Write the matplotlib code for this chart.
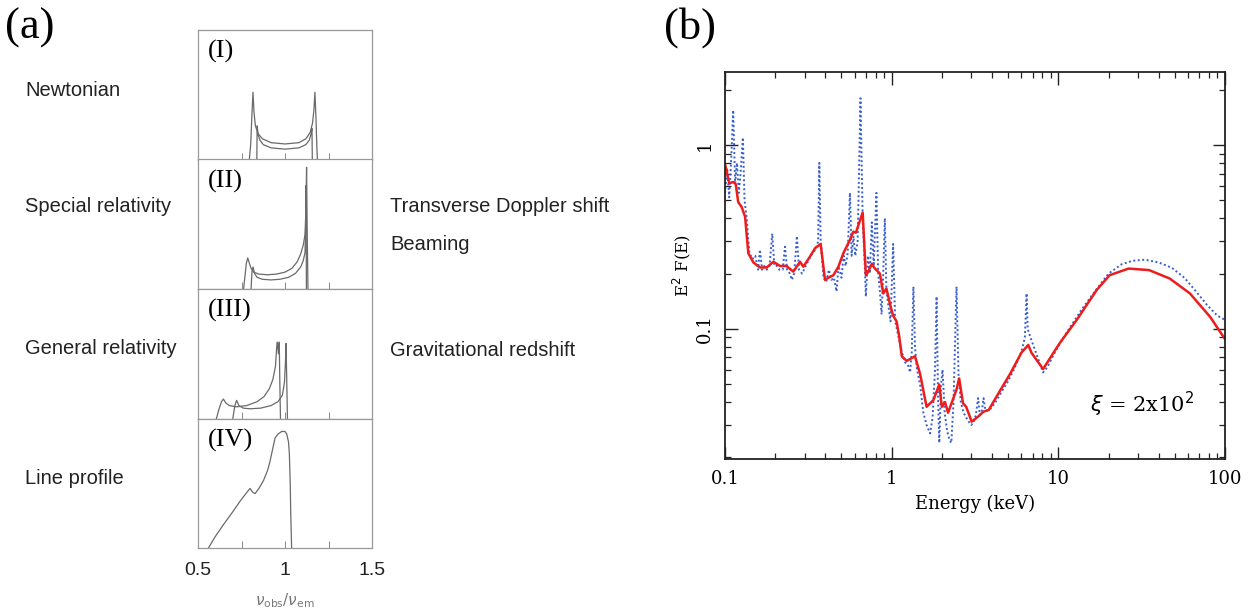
import numpy as np
import matplotlib
matplotlib.use('Agg')
import matplotlib.pyplot as plt
from matplotlib.ticker import FixedLocator, LogLocator, NullFormatter, FixedFormatter

# ---------------------------------------------------------------
# (a) line-profile panels: x = nu_obs / nu_em, y = normalised flux
# ---------------------------------------------------------------
newt_outer_x = [0.795, 0.803, 0.810, 0.816, 0.822, 0.830, 0.845, 0.87, 0.92, 1.00,
                1.08, 1.12, 1.145, 1.158, 1.166, 1.172, 1.178, 1.183, 1.186]
newt_outer_y = [0.0, 0.12, 0.35, 0.52, 0.36, 0.26, 0.20, 0.16, 0.13, 0.12,
                0.13, 0.16, 0.21, 0.28, 0.38, 0.52, 0.32, 0.10, 0.0]
newt_inner_x = [0.838, 0.840, 0.846, 0.856, 0.875, 0.92, 1.00, 1.08, 1.12, 1.14,
                1.150, 1.155, 1.157]
newt_inner_y = [0.0, 0.26, 0.19, 0.15, 0.115, 0.09, 0.08, 0.09, 0.115, 0.15,
                0.20, 0.24, 0.0]

sr_outer_x = [0.762, 0.770, 0.778, 0.786, 0.795, 0.805, 0.82, 0.85, 0.90, 0.95,
              1.00, 1.04, 1.07, 1.09, 1.105, 1.115, 1.120, 1.124, 1.128, 1.132]
sr_outer_y = [0.0, 0.10, 0.20, 0.24, 0.20, 0.16, 0.13, 0.115, 0.11, 0.115,
              0.13, 0.16, 0.21, 0.27, 0.34, 0.42, 0.60, 0.94, 0.40, 0.0]
sr_inner_x = [0.805, 0.810, 0.816, 0.825, 0.84, 0.87, 0.92, 0.97, 1.02, 1.06,
              1.09, 1.105, 1.115, 1.119, 1.121, 1.123]
sr_inner_y = [0.0, 0.13, 0.17, 0.12, 0.09, 0.075, 0.07, 0.075, 0.09, 0.12,
              0.17, 0.22, 0.28, 0.50, 0.80, 0.0]

gr_outer_x = [0.606, 0.620, 0.635, 0.646, 0.66, 0.68, 0.72, 0.78, 0.84, 0.88,
              0.91, 0.93, 0.945, 0.952, 0.956, 0.962, 0.967, 0.970, 0.974]
gr_outer_y = [0.0, 0.07, 0.13, 0.15, 0.12, 0.10, 0.09, 0.10, 0.13, 0.17,
              0.23, 0.30, 0.40, 0.55, 0.59, 0.50, 0.59, 0.30, 0.0]
gr_inner_x = [0.700, 0.712, 0.722, 0.735, 0.76, 0.80, 0.86, 0.92, 0.96, 0.985,
              0.997, 1.003, 1.006, 1.010, 1.014]
gr_inner_y = [0.0, 0.10, 0.14, 0.10, 0.08, 0.075, 0.08, 0.10, 0.13, 0.18,
              0.28, 0.45, 0.58, 0.30, 0.0]

prof_x = [0.560, 0.60, 0.646, 0.70, 0.741, 0.775, 0.799, 0.815, 0.828, 0.85,
          0.876, 0.90, 0.914, 0.93, 0.943, 0.96, 0.981, 1.00, 1.01, 1.02,
          1.025, 1.030, 1.033, 1.038]
prof_y = [0.0, 0.09, 0.18, 0.28, 0.36, 0.42, 0.46, 0.43, 0.42, 0.46,
          0.52, 0.60, 0.67, 0.77, 0.85, 0.88, 0.90, 0.90, 0.88, 0.82,
          0.73, 0.50, 0.27, 0.0]

panel_tags = ['(I)', '(II)', '(III)', '(IV)']
left_names = ['Newtonian', 'Special relativity', 'General relativity', 'Line profile']
ratio_ticks = [0.5, 1, 1.5]
ratio_ticklabels = ['0.5', '1', '1.5']

# ---------------------------------------------------------------
# (b) reflection spectrum, E^2 F(E) vs Energy (keV)
# ---------------------------------------------------------------
smooth_E = [0.100, 0.106, 0.112, 0.116, 0.120, 0.126, 0.132, 0.138, 0.148, 0.162,
            0.178, 0.195, 0.214, 0.234, 0.257, 0.282, 0.295, 0.323, 0.347, 0.375,
            0.398, 0.417, 0.447, 0.479, 0.513, 0.562, 0.588, 0.610, 0.670, 0.700,
            0.724, 0.760, 0.790, 0.850, 0.890, 0.930, 0.980, 1.02, 1.07, 1.11,
            1.15, 1.23, 1.38, 1.48, 1.62, 1.78, 1.93, 2.00, 2.09, 2.18,
            2.45, 2.54, 2.68, 2.80, 3.02, 3.31, 3.56, 3.82, 4.25, 5.14,
            6.0, 6.6, 6.9, 8.1, 10.2, 12.9, 17.0, 20.3, 26.4, 35.0,
            46.6, 61.6, 81.6, 100.0]
smooth_F = [0.79, 0.62, 0.63, 0.614, 0.49, 0.46, 0.407, 0.258, 0.23, 0.216,
            0.216, 0.232, 0.22, 0.22, 0.205, 0.232, 0.218, 0.247, 0.275, 0.29,
            0.185, 0.19, 0.196, 0.218, 0.258, 0.305, 0.338, 0.334, 0.43, 0.196,
            0.205, 0.226, 0.214, 0.20, 0.156, 0.166, 0.135, 0.118, 0.110, 0.091,
            0.071, 0.067, 0.071, 0.057, 0.0377, 0.041, 0.0498, 0.0377, 0.040, 0.035,
            0.0468, 0.0538, 0.0394, 0.0377, 0.0313, 0.0334, 0.0355, 0.0362, 0.0427, 0.057,
            0.0742, 0.0818, 0.0742, 0.0605, 0.0838, 0.112, 0.163, 0.196, 0.213, 0.209,
            0.188, 0.156, 0.116, 0.088]

lines_E = [0.100, 0.103, 0.106, 0.109, 0.112, 0.115, 0.118, 0.121, 0.124, 0.128,
           0.131, 0.135, 0.140, 0.146, 0.152, 0.158, 0.162, 0.167, 0.172, 0.178,
           0.185, 0.192, 0.198, 0.205, 0.212, 0.222, 0.229, 0.236, 0.245, 0.252,
           0.260, 0.270, 0.278, 0.290, 0.305, 0.320, 0.335, 0.350, 0.362, 0.368,
           0.375, 0.390, 0.405, 0.420, 0.435, 0.450, 0.467, 0.480, 0.500, 0.515,
           0.530, 0.545, 0.562, 0.575, 0.590, 0.605, 0.625, 0.650, 0.670, 0.690,
           0.700, 0.720, 0.740, 0.760, 0.780, 0.810, 0.830, 0.850, 0.870, 0.890,
           0.910, 0.930, 0.960, 0.985, 1.02, 1.05, 1.10, 1.15, 1.20, 1.25,
           1.29, 1.32, 1.35, 1.38, 1.42, 1.48, 1.55, 1.62, 1.70, 1.76,
           1.82, 1.86, 1.90, 1.93, 1.98, 2.02, 2.08, 2.15, 2.22, 2.28,
           2.35, 2.45, 2.52, 2.60, 2.70, 2.85, 3.00, 3.10, 3.20, 3.30,
           3.38, 3.48, 3.56, 3.65, 3.85, 4.20, 4.60, 5.00, 5.50, 6.00,
           6.30, 6.45, 6.55, 6.80, 7.20, 7.70, 8.10, 8.60, 9.50, 10.5,
           12.0, 14.0, 17.0, 20.0, 24.0, 28.0, 33.0, 40.0, 48.0, 57.0,
           67.0, 78.0, 90.0, 100.0]
lines_F = [0.55, 0.75, 0.52, 0.85, 1.55, 0.62, 0.80, 0.55, 0.70, 1.10,
           0.50, 0.40, 0.26, 0.24, 0.25, 0.21, 0.27, 0.21, 0.22, 0.21,
           0.22, 0.33, 0.22, 0.22, 0.21, 0.21, 0.28, 0.21, 0.20, 0.185,
           0.20, 0.32, 0.21, 0.20, 0.22, 0.24, 0.26, 0.27, 0.30, 0.80,
           0.30, 0.19, 0.18, 0.21, 0.185, 0.19, 0.16, 0.22, 0.19, 0.25,
           0.22, 0.26, 0.55, 0.25, 0.32, 0.25, 0.30, 1.80, 0.40, 0.22,
           0.15, 0.25, 0.20, 0.38, 0.22, 0.55, 0.20, 0.16, 0.12, 0.20,
           0.40, 0.16, 0.13, 0.11, 0.29, 0.11, 0.090, 0.075, 0.066, 0.064,
           0.058, 0.075, 0.17, 0.08, 0.060, 0.050, 0.035, 0.030, 0.027, 0.033,
           0.060, 0.150, 0.040, 0.024, 0.050, 0.060, 0.035, 0.028, 0.025, 0.024,
           0.040, 0.170, 0.055, 0.040, 0.035, 0.032, 0.030, 0.031, 0.034, 0.042,
           0.034, 0.036, 0.042, 0.036, 0.036, 0.040, 0.046, 0.052, 0.062, 0.075,
           0.090, 0.156, 0.100, 0.090, 0.078, 0.066, 0.058, 0.062, 0.074, 0.087,
           0.105, 0.130, 0.165, 0.200, 0.225, 0.235, 0.238, 0.230, 0.215, 0.190,
           0.160, 0.135, 0.118, 0.112]

# ---------------------------------------------------------------
W, H = 1255, 608
fig = plt.figure(figsize=(W / 100, H / 100), dpi=100)

def px(x, y):
    return x / W, 1 - y / H

sans = ['Liberation Sans', 'DejaVu Sans']
serif = ['Liberation Serif', 'DejaVu Serif']
grey = '#6a6a6a'

curves = [
    [(newt_outer_x, newt_outer_y), (newt_inner_x, newt_inner_y)],
    [(sr_outer_x, sr_outer_y), (sr_inner_x, sr_inner_y)],
    [(gr_outer_x, gr_outer_y), (gr_inner_x, gr_inner_y)],
    [(prof_x, prof_y)],
]

top, pane_h = 30, 129.5
axes_a = []
for i in range(4):
    y0 = top + pane_h * (i + 1)
    ax = fig.add_axes([198 / W, 1 - y0 / H, 174 / W, pane_h / H])
    for cx, cy in curves[i]:
        ax.plot(cx, cy, color=grey, lw=0.9)
    ax.set_xlim(0.5, 1.5)
    ax.set_ylim(0, 1)
    ax.set_yticks([])
    ax.xaxis.set_major_locator(FixedLocator(ratio_ticks))
    ax.xaxis.set_minor_locator(FixedLocator([0.75, 1.25]))
    ax.tick_params(axis='x', which='both', direction='in', length=5,
                   width=0.7, color='#888888', labelsize=14, pad=10)
    for s in ax.spines.values():
        s.set_color('#999999')
        s.set_linewidth(0.9)
    if i < 3:
        ax.tick_params(labelbottom=False)
    else:
        ax.xaxis.set_major_formatter(FixedFormatter(ratio_ticklabels))
        for lab in ax.get_xticklabels():
            lab.set_family(sans)
            lab.set_color('#222222')
    ax.text(0.055, 0.92, panel_tags[i], transform=ax.transAxes, ha='left', va='top',
            fontsize=19, family=serif)
    axes_a.append(ax)

axes_a[3].set_xlabel(r'$\nu_{\rm obs}/\nu_{\rm em}$', fontsize=11, color='#777777',
                     labelpad=9)

left_y = [90, 207, 349, 478]
for name, yy in zip(left_names, left_y):
    fig.text(*px(25, yy), name, ha='left', va='center', fontsize=14.5, family=sans,
             color='#222222')
right_text = [('Transverse Doppler shift', 206), ('Beaming', 245),
              ('Gravitational redshift', 350)]
for name, yy in right_text:
    fig.text(*px(390, yy), name, ha='left', va='center', fontsize=14.5, family=sans,
             color='#222222')

fig.text(*px(5, 28), '(a)', ha='left', va='center', fontsize=32, family=serif)
fig.text(*px(664, 28), '(b)', ha='left', va='center', fontsize=32, family=serif)

# ---------------------------------------------------------------
# (b)
# ---------------------------------------------------------------
axb = fig.add_axes([725 / W, 1 - 459 / H, 500 / W, (459 - 72) / H])
axb.plot(lines_E, lines_F, color='#3a5fcd', lw=1.4, linestyle=(0, (1, 1.3)))
axb.plot(smooth_E, smooth_F, color='#ee1c1c', lw=1.8)
axb.set_xscale('log')
axb.set_yscale('log')
axb.set_xlim(0.1, 100)
axb.set_ylim(0.0196, 2.5)

axb.set_xticks([0.1, 1, 10, 100])
axb.set_xticklabels(['0.1', '1', '10', '100'])
axb.set_yticks([0.1, 1])
axb.set_yticklabels(['0.1', '1'])
axb.xaxis.set_minor_locator(LogLocator(base=10, subs=np.arange(2, 10)))
axb.yaxis.set_minor_locator(LogLocator(base=10, subs=np.arange(2, 10)))
axb.xaxis.set_minor_formatter(NullFormatter())
axb.yaxis.set_minor_formatter(NullFormatter())
axb.tick_params(which='both', direction='in', top=True, right=True, color='#222222')
axb.tick_params(which='major', length=9, width=1.0, labelsize=13, pad=8)
axb.tick_params(which='minor', length=4.5, width=0.9)
axb.tick_params(axis='y', labelrotation=90)
for lab in axb.get_xticklabels() + axb.get_yticklabels():
    lab.set_family(['DejaVu Serif'])
for lab in axb.get_yticklabels():
    lab.set_va('center')
for s in axb.spines.values():
    s.set_linewidth(1.3)
    s.set_color('#222222')

axb.set_xlabel('Energy (keV)', fontsize=13, family=['DejaVu Serif'], labelpad=5)
axb.set_ylabel(r'E$^2$ F(E)', fontsize=12, family=['DejaVu Serif'], labelpad=2)
axb.text(0.73, 0.14, r'$\xi$ = 2x10$^2$', transform=axb.transAxes, fontsize=15,
         family=['DejaVu Serif'], ha='left', va='center')

fig.savefig('out.png', dpi=100)
